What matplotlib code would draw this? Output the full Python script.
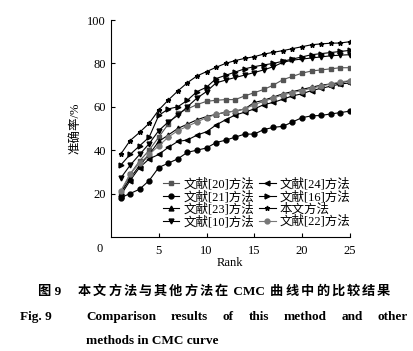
import matplotlib.pyplot as plt

plt.rcParams['font.family'] = ['Liberation Serif', 'Noto Sans CJK SC']
plt.rcParams['axes.unicode_minus'] = False

rank = list(range(1, 26))

ours = [38, 44.4, 48.2, 52.4, 58.5, 63.1, 67.3, 71.1, 74.2, 76.2, 78.2, 80, 81.3,
        82.3, 83.1, 84.3, 85.1, 85.9, 86.8, 87.7, 88.6, 89, 89.3, 89.4, 90]
ref16 = [33, 38, 42, 46, 56, 59, 60, 63, 67, 69, 73, 74.5, 76, 77.5, 78.5, 79.3,
         80, 81, 82, 83, 84, 84.5, 85, 85.5, 86]
ref10 = [27, 33, 38, 43, 49, 53, 56, 60, 64, 67, 71, 72.3, 73.5, 74.6, 75.8, 77,
         78.5, 80.5, 81.5, 82, 82.5, 83, 83.5, 83.8, 84]
ref20 = [20, 29, 35, 40, 46, 52, 57, 59, 61, 62.5, 63, 63.3, 63.3, 65, 66.5, 68,
         70, 72.5, 74, 75.5, 76.5, 77, 77.5, 78, 78]
ref22 = [21, 29, 34, 38, 42, 46, 49, 51, 53, 55, 56.5, 57.5, 58, 59, 61, 62.5,
         64, 65.5, 66.5, 67.5, 68.5, 69.5, 70.5, 71.5, 72]
ref23 = [20, 27, 33, 38, 44, 47, 50, 52, 54, 55.5, 56.5, 57.5, 58, 59, 62, 63,
         64.5, 66, 67, 68, 69, 70, 70.5, 71, 72]
ref24 = [19, 26, 32, 36, 38, 41.3, 44, 44.7, 46.9, 48.5, 51.6, 54, 56.2, 57.5, 59,
         61, 62, 63.5, 65, 66, 67.5, 68.5, 69.5, 70.5, 71]
ref21 = [18, 20, 22, 26, 32, 34, 36, 39, 40, 41, 43.5, 44.6, 46, 47.4, 47.4, 49.5,
         50.5, 51, 53, 55, 55.8, 56, 56.7, 57.3, 58]

W, H = 414, 351
fig = plt.figure(figsize=(W / 100, H / 100), dpi=100)
ax = fig.add_axes([0.268, 0.325, 0.577, 0.618])

kw = dict(lw=0.8, ms=3.5)
l20, = ax.plot(rank, ref20, marker='s', color='#555555', ms=3, lw=0.8, label='文献[20]方法')
l21, = ax.plot(rank, ref21, marker='o', color='black', label='文献[21]方法', **kw)
l23, = ax.plot(rank, ref23, marker='^', color='black', label='文献[23]方法', **kw)
l10, = ax.plot(rank, ref10, marker='v', color='black', label='文献[10]方法', **kw)
l24, = ax.plot(rank, ref24, marker='<', color='black', label='文献[24]方法', **kw)
l16, = ax.plot(rank, ref16, marker='>', color='black', label='文献[16]方法', **kw)
l0, = ax.plot(rank, ours, marker='*', color='black', label='本文方法', **kw)
l22, = ax.plot(rank, ref22, marker='o', color='#777777', label='文献[22]方法', **kw)

ax.set_xlim(0, 25)
ax.set_ylim(0, 100)
ax.set_xticks([5, 10, 15, 20, 25])
ax.set_yticks([20, 40, 60, 80, 100])
ax.tick_params(direction='in', length=3, width=0.8, labelsize=9)
ax.tick_params(axis='x', pad=6)
for s in ['top', 'right']:
    ax.spines[s].set_visible(False)
ax.text(-0.9, -3, '0', fontsize=9, ha='right', va='top')
ax.set_xlabel('Rank', fontsize=9, labelpad=0)
ax.set_ylabel('准确率/%', fontsize=9, labelpad=4)

ax.legend(handles=[l20, l21, l23, l10, l24, l16, l0, l22], ncol=2, frameon=False,
          loc='lower right', bbox_to_anchor=(1.04, 0.0), fontsize=9,
          handlelength=1.3, handletextpad=0.35, columnspacing=0.4,
          labelspacing=0.0, borderpad=0.2)


def justify(pieces, x0, x1, y, **tk):
    # spread pieces evenly so that they fill x0..x1 (pixels)
    objs = [fig.text(0, 1 - y / H, p, va='center', **tk) for p in pieces]
    r = fig.canvas.get_renderer()
    ws = [o.get_window_extent(r).width for o in objs]
    gap = (x1 - x0 - sum(ws)) / max(len(pieces) - 1, 1)
    x = x0
    for o, w in zip(objs, ws):
        o.set_x(x / W)
        x += w + gap


bold = dict(fontsize=9.5, fontweight='bold')
fig.text(38 / W, 1 - 292 / H, '图 9', va='center', **bold)
justify(list('本文方法与其他方法在') + [' CMC '] + list('曲线中的比较结果'), 78, 390, 292, **bold)
fig.text(20 / W, 1 - 317 / H, 'Fig. 9', va='center', **bold)
justify(['Comparison', 'results', 'of', 'this', 'method', 'and', 'other'], 86, 408, 317, **bold)
fig.text(86 / W, 1 - 341 / H, 'methods in CMC curve', va='center', **bold)

fig.savefig('out.png', dpi=100)
